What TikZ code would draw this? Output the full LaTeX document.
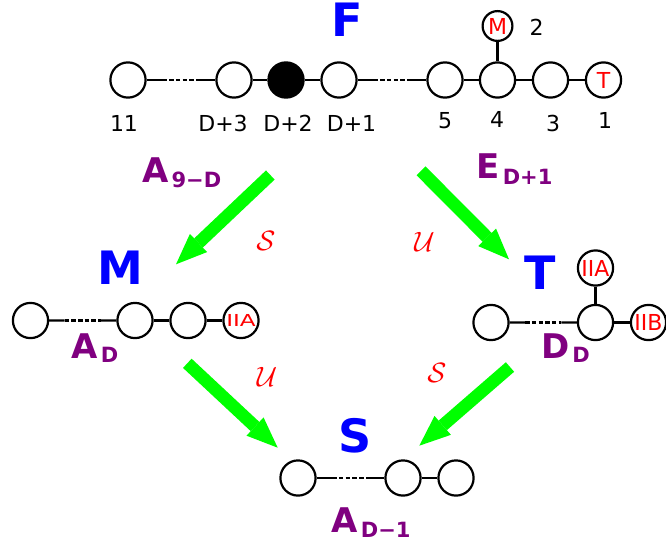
\documentclass[tikz,border=0pt]{standalone}
\usepackage{fontspec}
\setmainfont{DejaVu Sans}
\usepackage{graphicx}
\usetikzlibrary{arrows.meta,calc}
\definecolor{dpurple}{RGB}{128,0,128}
\definecolor{agreen}{RGB}{0,255,0}
\definecolor{ablue}{RGB}{0,0,255}
\definecolor{ared}{RGB}{255,0,0}
\newcommand{\plbl}[3]{{\fontsize{34}{34}\selectfont #1}\kern3pt\raisebox{-#3}{\fontsize{21}{21}\selectfont #2}}
\newcommand{\dedge}[2]{%
  \draw (#1) -- ($(#1.east)!0.23!(#2.west)$);
  \draw[dsh] ($(#1.east)!0.23!(#2.west)$) -- ($(#1.east)!0.77!(#2.west)$);
  \draw ($(#1.east)!0.77!(#2.west)$) -- (#2);}
\begin{document}
\begin{tikzpicture}[x=1pt,y=-1pt,line width=2.2pt,
  dot/.style={circle,draw,line width=2.2pt,minimum size=35.2pt,inner sep=0pt,
    text=ared,font=\fontsize{22}{22}\selectfont},
  smalldot/.style={dot,minimum size=29.8pt},
  num/.style={inner sep=0pt,font=\fontsize{22}{22}\selectfont},
  big/.style={inner sep=0pt,text=ablue,font=\fontsize{46}{46}\selectfont\bfseries},
  plab/.style={inner sep=0pt,anchor=base,text=dpurple,font=\bfseries},
  cal/.style={inner sep=0pt,text=ared},
  garrow/.style={draw=agreen,line width=12.6pt,
    -{Triangle[length=31pt,width=25pt,line width=0pt]}},
  dsh/.style={dash pattern=on 4.5pt off 2.2pt}]
\useasboundingbox (0,0) rectangle (666,546);

% ---- F (top) ----
\node[big] (F) at (347.5,20) {F};
\node[dot] (t11) at (128,80) {};
\node[dot] (td3) at (234,80) {};
\node[dot,fill=black] (td2) at (286,80) {};
\node[dot] (td1) at (339,80) {};
\node[dot] (t5) at (445,80) {};
\node[dot] (t4) at (497.5,80) {};
\node[dot] (t3) at (550.5,80) {};
\node[dot] (t1) at (603.5,80) {T};
\node[smalldot] (tM) at (497.5,26) {M};
\dedge{t11}{td3}
\draw (td3) -- (td2);
\draw (td2) -- (td1);
\dedge{td1}{t5}
\draw (t5) -- (t4);
\draw (t4) -- (t3);
\draw (t3) -- (t1);
\draw (tM) -- (t4);
\node[num] (l11) at (124,123.5) {11};
\node[num] (ld3) at (223,123.5) {D+3};
\node[num] (ld2) at (288,123.5) {D+2};
\node[num] (ld1) at (351.5,123.5) {D+1};
\node[num] (l5) at (445,121) {5};
\node[num] (l4) at (497,119) {4};
\node[num] (l3) at (553,123.5) {3};
\node[num] (l1) at (605,120) {1};
\node[num] (l2) at (536.5,27) {2};

% ---- M (left) ----
\node[big] (M) at (120,268) {M};
\node[dot] (m1) at (30.5,320.5) {};
\node[dot] (m2) at (135,320.5) {};
\node[dot] (m3) at (188,320.5) {};
\node[dot] (m4) at (241,320.5) {\scalebox{1.05}[0.75]{IIA}};
\dedge{m1}{m2}
\draw (m2) -- (m3);
\draw (m3) -- (m4);

% ---- T (right) ----
\node[big] (T) at (540,273) {T};
\node[dot] (r1) at (491,322.5) {};
\node[dot] (r2) at (595.5,322.5) {};
\node[dot] (r3) at (648.5,322.5) {IIB};
\node[dot] (rA) at (595.5,268) {IIA};
\dedge{r1}{r2}
\draw (r2) -- (r3);
\draw (rA) -- (r2);

% ---- S (bottom) ----
\node[big] (S) at (355,436) {S};
\node[dot] (s1) at (298,478) {};
\node[dot] (s2) at (403,478) {};
\node[dot] (s3) at (456,478) {};
\dedge{s1}{s2}
\draw (s2) -- (s3);

% ---- purple labels ----
\node[plab] (LA9) at (181.7,182) {\plbl{A}{9\char"2212 D}{5pt}};
\node[plab] (LE) at (514.5,178) {\plbl{E}{D+1}{6.5pt}};
\node[plab] (LAD) at (95,358) {\plbl{A}{D}{4.5pt}};
\node[plab] (LDD) at (565.5,358) {\plbl{D}{D}{4.5pt}};
\node[plab] (LAD1) at (371,532) {\plbl{A}{D\char"2212 1}{5pt}};

% ---- red calligraphic labels ----
\node[cal] (c1) at (266,241) {\scalebox{2.8}{$\mathcal{S}$}};
\node[cal] (c2) at (424.5,241.7) {\scalebox{2.8}{$\mathcal{U}$}};
\node[cal] (c3) at (267,377) {\scalebox{2.8}{$\mathcal{U}$}};
\node[cal] (c4) at (437,373) {\scalebox{2.8}{$\mathcal{S}$}};

% ---- green arrows ----
\coordinate (a1s) at (270.3,175);
\coordinate (a1e) at (176,264.3);
\coordinate (a2s) at (421,170.8);
\coordinate (a2e) at (509,259.3);
\coordinate (a3s) at (187.3,363.3);
\coordinate (a3e) at (277.7,447.7);
\coordinate (a4s) at (510,367);
\coordinate (a4e) at (419.3,445.7);
\draw[garrow] (a1s) -- (a1e);
\draw[garrow] (a2s) -- (a2e);
\draw[garrow] (a3s) -- (a3e);
\draw[garrow] (a4s) -- (a4e);
\end{tikzpicture}
\end{document}
